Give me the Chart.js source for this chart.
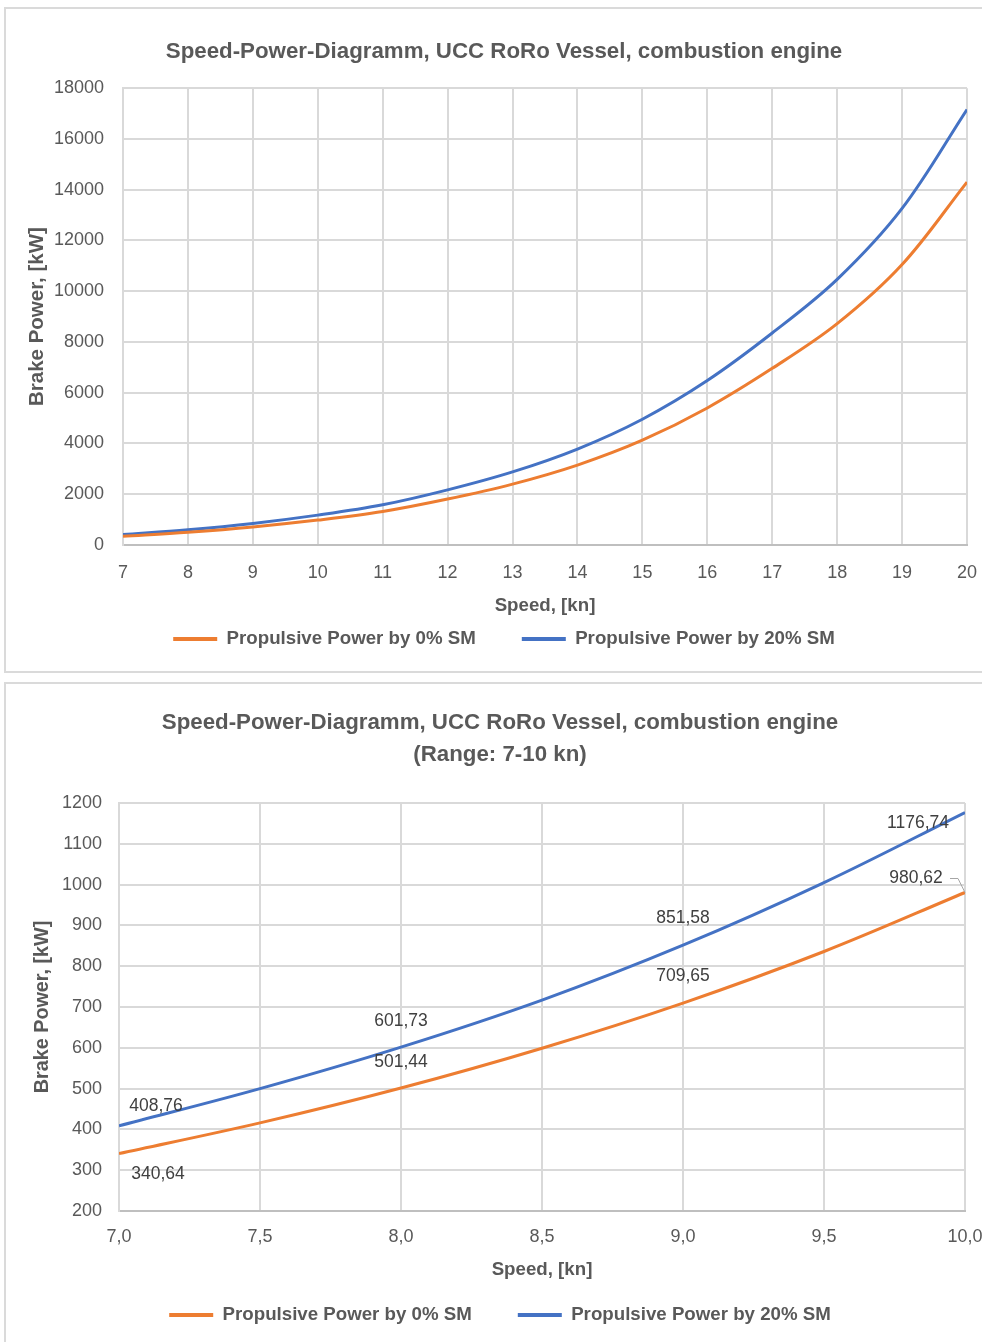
<!DOCTYPE html>
<html><head><meta charset="utf-8">
<script src="https://cdn.jsdelivr.net/npm/chart.js@4.4.1/dist/chart.umd.min.js"></script>
<style>
html,body{margin:0;padding:0;background:#fff;overflow:hidden;width:982px;height:1342px;position:relative;}
.box{position:absolute;border:2px solid #dadada;box-sizing:border-box;background:#fff;}
#box1{left:4px;top:7px;width:1000px;height:666px;}
#box2{left:4px;top:682px;width:1000px;height:700px;}
canvas{position:absolute;}
#c1{left:0;top:0;}
#c2{left:0;top:683px;}
</style></head>
<body>
<div class="box" id="box1"></div>
<div class="box" id="box2"></div>
<canvas id="c1" width="1007" height="672"></canvas>
<canvas id="c2" width="1010" height="659"></canvas>
<script>
// ---- data ----
const topSpeeds  = [7, 8, 9, 10, 11, 12, 13, 14, 15, 16, 17, 18, 19, 20];
const topPower0  = [340.64, 501.44, 709.65, 980.62, 1320, 1810, 2400, 3150, 4130, 5400, 6960, 8720, 11050, 14300];
const topPower20 = [408.76, 601.73, 851.58, 1176.74, 1584, 2172, 2880, 3780, 4956, 6480, 8352, 10464, 13260, 17160];
const topXTicks  = ['7','8','9','10','11','12','13','14','15','16','17','18','19','20'];
const topYTicks  = ['0','2000','4000','6000','8000','10000','12000','14000','16000','18000'];

const zoomSpeeds  = [7.0, 7.5, 8.0, 8.5, 9.0, 9.5, 10.0];
const zoomPower0  = [340.64, 416, 501.44, 599, 709.65, 836, 980.62];
const zoomPower20 = [408.76, 500, 601.73, 717, 851.58, 1005, 1176.74];
const zoomXTicks  = ['7,0','7,5','8,0','8,5','9,0','9,5','10,0'];
const zoomYTicks  = ['200','300','400','500','600','700','800','900','1000','1100','1200'];
const labeledSpeeds = [7, 8, 9, 10];

const seriesNames = ['Propulsive Power by 0% SM', 'Propulsive Power by 20% SM'];
const titleTop = 'Speed-Power-Diagramm, UCC RoRo Vessel, combustion engine';
const titleZoom = ['Speed-Power-Diagramm, UCC RoRo Vessel, combustion engine', '(Range: 7-10 kn)'];

// ---- style ----
const FONT = "'Liberation Sans', Arial, sans-serif";
const GRID = '#d9d9d9';
const TXT = '#595959';
const ORANGE = '#ED7D31';
const BLUE = '#4472C4';

function pts(xs, ys){ return xs.map((x, i) => ({x: x, y: ys[i]})); }
function fmtComma(v, d){ return v.toFixed(d).replace('.', ','); }
function legendLabels(chart){
  const items = Chart.defaults.plugins.legend.labels.generateLabels(chart);
  items.forEach(it => { it.lineWidth = 0; });
  return items;
}
function ds(label, data, color){
  return {label: label, data: data, borderColor: color, backgroundColor: color,
    borderWidth: 3, pointRadius: 0, pointHoverRadius: 0, fill: false, tension: 0.35};
}

// value labels for the zoomed chart: [dx, dy, leader]
const labelOffsets = [
  {7: [39, 21], 8: [0, -26], 9: [0, -27], 10: [-49, -14, true]},
  {7: [37, -20], 8: [0, -26], 9: [0, -27], 10: [-47, 11]}
];
const valueLabelPlugin = {
  id: 'valueLabels',
  afterDatasetsDraw(chart){
    const ctx = chart.ctx;
    ctx.save();
    ctx.font = '17.5px ' + FONT;
    ctx.textAlign = 'center';
    ctx.textBaseline = 'middle';
    chart.data.datasets.forEach((d, di) => {
      const meta = chart.getDatasetMeta(di);
      d.data.forEach((p, i) => {
        if (!labeledSpeeds.includes(p.x)) return;
        const el = meta.data[i];
        const off = labelOffsets[di][p.x];
        const tx = el.x + off[0], ty = el.y + off[1];
        ctx.fillStyle = '#404040';
        ctx.fillText(fmtComma(p.y, 2), tx, ty);
        if (off[2]) {
          ctx.strokeStyle = '#a6a6a6';
          ctx.lineWidth = 1;
          ctx.beginPath();
          ctx.moveTo(tx + 34, ty);
          ctx.lineTo(tx + 42, ty);
          ctx.lineTo(el.x, el.y);
          ctx.stroke();
        }
      });
    });
    ctx.restore();
  }
};

function makeChart(canvasId, cfg){
  return new Chart(document.getElementById(canvasId), {
    type: 'line',
    data: {datasets: [
      ds(seriesNames[0], pts(cfg.xs, cfg.y0), ORANGE),
      ds(seriesNames[1], pts(cfg.xs, cfg.y1), BLUE)
    ]},
    plugins: cfg.plugins || [],
    options: {
      responsive: false, animation: false, events: [],
      layout: {padding: cfg.layoutPad},
      plugins: {
        title: {display: true, text: cfg.title, color: TXT,
          font: {family: FONT, size: 22.3, weight: 'bold', lineHeight: cfg.titleLH},
          padding: cfg.titlePad},
        legend: {position: 'bottom', labels: {boxWidth: 44, boxHeight: 4, padding: 46, color: TXT,
          font: {family: FONT, size: 18.7, weight: 'bold'}, generateLabels: legendLabels}},
        tooltip: {enabled: false}
      },
      scales: {
        x: {type: 'linear', min: cfg.xmin, max: cfg.xmax,
          ticks: {stepSize: cfg.xstep, color: TXT, font: {family: FONT, size: 18}, padding: cfg.xTickPad,
            maxRotation: 0, autoSkip: false, callback: (v, i) => cfg.xTicks[i]},
          grid: {color: GRID, lineWidth: 2, drawTicks: false},
          border: {color: '#bfbfbf', width: 2},
          title: {display: true, text: 'Speed, [kn]', color: TXT,
            font: {family: FONT, size: 18.7, weight: 'bold'}, padding: {top: 0, bottom: cfg.xTitlePadB}},
          afterFit: s => { s.height = cfg.xHeight; }},
        y: {min: cfg.ymin, max: cfg.ymax,
          ticks: {stepSize: cfg.ystep, color: TXT, font: {family: FONT, size: 18}, padding: cfg.yTickPad,
            callback: (v, i) => cfg.yTicks[i]},
          grid: {color: GRID, lineWidth: 2, drawTicks: false},
          border: {color: GRID, width: 2},
          title: {display: true, text: 'Brake Power, [kW]', color: TXT,
            font: {family: FONT, size: cfg.yTitleSize, weight: 'bold'}, padding: {top: cfg.yTitlePadT, bottom: 0}},
          afterFit: s => { s.width = cfg.yWidth; }}
      }
    }
  });
}

makeChart('c1', {
  xs: topSpeeds, y0: topPower0, y1: topPower20,
  title: titleTop, titleLH: 1.2, titlePad: {top: 38.6, bottom: 22.8},
  layoutPad: {left: 41, right: 40, top: 0, bottom: 13.7},
  xmin: 7, xmax: 20, xstep: 1, xTicks: topXTicks, xTickPad: 17.2, xTitlePadB: -33.5, xHeight: 38.6,
  ymin: 0, ymax: 18000, ystep: 2000, yTicks: topYTicks, yTickPad: 19, yWidth: 82,
  yTitleSize: 20.5, yTitlePadT: -16
});

makeChart('c2', {
  xs: zoomSpeeds, y0: zoomPower0, y1: zoomPower20,
  title: titleZoom, titleLH: '32px', titlePad: {top: 24, bottom: 32},
  layoutPad: {left: 35, right: 45, top: 0, bottom: 7.7},
  xmin: 7, xmax: 10, xstep: 0.5, xTicks: zoomXTicks, xTickPad: 15.5, xTitlePadB: -21.5, xHeight: 48.6,
  ymin: 200, ymax: 1200, ystep: 100, yTicks: zoomYTicks, yTickPad: 17, yWidth: 84,
  yTitleSize: 19.8, yTitlePadT: -4.5,
  plugins: [valueLabelPlugin]
});
</script>
</body></html>
